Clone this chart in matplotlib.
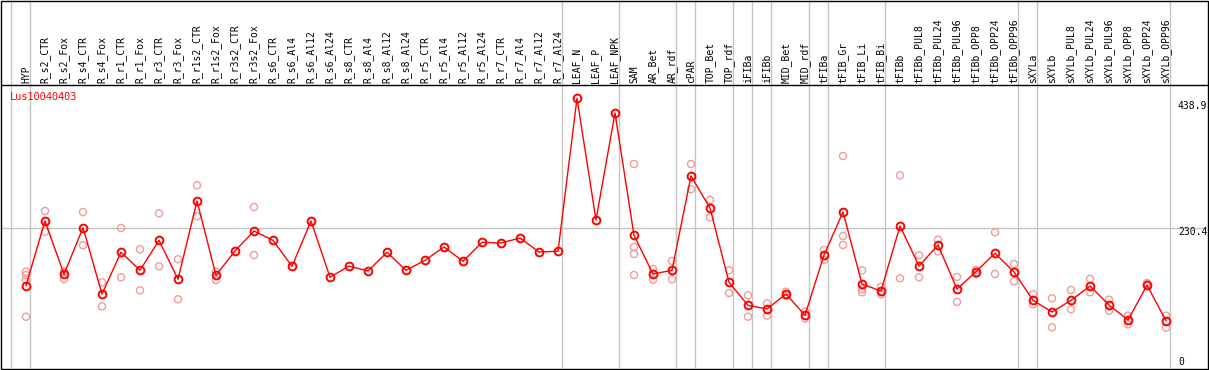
import numpy as np
import matplotlib.pyplot as plt
import matplotlib.transforms as mtransforms
from matplotlib.patches import Rectangle

gene = "Lus10040403"

samples = ["HYP",
           "R_s2_CTR", "R_s2_Fox", "R_s4_CTR", "R_s4_Fox", "R_r1_CTR", "R_r1_Fox",
           "R_r3_CTR", "R_r3_Fox", "R_r1s2_CTR", "R_r1s2_Fox", "R_r3s2_CTR", "R_r3s2_Fox",
           "R_s6_CTR", "R_s6_Al4", "R_s6_Al12", "R_s6_Al24", "R_s8_CTR", "R_s8_Al4",
           "R_s8_Al12", "R_s8_Al24", "R_r5_CTR", "R_r5_Al4", "R_r5_Al12", "R_r5_Al24",
           "R_r7_CTR", "R_r7_Al4", "R_r7_Al12", "R_r7_Al24",
           "LEAF_N", "LEAF_P", "LEAF_NPK",
           "SAM", "AR_Bet", "AR_rdf",
           "cPAR",
           "TOP_Bet", "TOP_rdf",
           "iFIBa",
           "iFIBb",
           "MID_Bet", "MID_rdf",
           "tFIBa",
           "tFIB_Gr", "tFIB_Li", "tFIB_Bi",
           "tFIBb", "tFIBb_PUL8", "tFIBb_PUL24", "tFIBb_PUL96", "tFIBb_OPP8",
           "tFIBb_OPP24", "tFIBb_OPP96",
           "sXYLa",
           "sXYLb", "sXYLb_PUL8", "sXYLb_PUL24", "sXYLb_PUL96", "sXYLb_OPP8",
           "sXYLb_OPP24", "sXYLb_OPP96"]

# how many samples sit between two grey separators
group_sizes = [1, 28, 3, 3, 1, 2, 1, 1, 2, 1, 3, 7, 1, 7]

mean_expr = [138.4, 242.2, 156.7, 231.4, 125.1, 192.0, 163.1, 211.2, 148.7, 274.3,
             155.1, 194.1, 226.1, 211.2, 169.5, 242.2, 151.9, 170.0, 162.0, 192.0,
             163.1, 179.1, 200.5, 177.5, 208.0, 206.9, 214.9, 192.5, 193.6,
             439.0, 243.8, 415.4,
             219.2, 157.2, 163.1,
             314.4,
             263.0, 143.9,
             107.0,
             101.0,
             125.1, 90.9,
             187.6,
             256.6, 141.1, 129.9,
             234.2, 170.0, 203.7, 133.1, 160.9, 190.4, 160.4,
             115.0,
             96.2, 115.0, 137.9, 107.5, 83.4, 139.1, 82.3]

replicates = [[160.9, 155.3, 147.6, 88.6],
              [258.2, 225.0], [160.9, 149.2], [256.6, 203.2], [143.9, 105.4],
              [231.0, 151.9], [196.8, 131.0], [254.5, 169.5], [180.8, 116.6],
              [299.4, 249.7], [160.9, 147.6], [], [264.6, 187.6],
              [], [], [], [], [], [], [], [], [], [], [], [], [], [], [], [],
              [], [], [],
              [333.6, 200.5, 189.3, 155.6], [165.2, 148.0], [178.0, 148.7],
              [333.6, 293.0],
              [275.9, 248.1], [163.1, 126.7],
              [123.0, 88.7],
              [110.2, 90.3],
              [128.8, 121.9], [96.7, 86.1],
              [195.7, 179.6],
              [346.4, 218.1, 203.7], [163.1, 132.6, 127.8], [136.8, 124.6],
              [315.5, 150.3], [187.2, 151.9], [212.2, 193.6], [152.4, 112.3],
              [163.6, 156.7], [224.1, 157.2], [173.2, 145.5],
              [124.6, 108.6],
              [118.2, 71.7], [131.5, 100.6], [149.2, 127.8], [116.0, 98.3],
              [90.3, 76.5], [142.7, 140.5], [90.3, 71.1]]

axis_marks = [0, 230.4, 438.9]

W, H = 1209, 370
fig = plt.figure(figsize=(W / 100, H / 100), dpi=100)
ax = fig.add_axes([1 / W, 2 / H, 1206 / W, 283 / H])

# 19 px between samples, first sample 25 px right of the frame
step = 19.0
xmin = -25 / step
ax.set_xlim(xmin, xmin + 1206 / step)
ax.set_ylim(6.4, 460.3)
ax.set_xticks([])
ax.set_yticks([])
for side in ["left", "right", "bottom"]:
    ax.spines[side].set_visible(False)
ax.spines["top"].set_linewidth(1.0)

mono = "DejaVu Sans Mono"
grey = "#c4c4c4"
trans = mtransforms.blended_transform_factory(ax.transData, ax.transAxes)

# separators reach up through the header
bounds = np.concatenate([[0], np.cumsum(group_sizes)]) - 1 + 0.22
ax.vlines(bounds, 0, 368 / 283, transform=trans, color=grey, lw=1,
          clip_on=False, zorder=0.5)
ax.axhline(230.4, color=grey, lw=1, zorder=0.5)

x = np.arange(len(samples))
for i, reps in enumerate(replicates):
    if reps:
        ax.scatter([i] * len(reps), reps, s=26, marker="o", facecolors="none",
                   edgecolors="#ef9c9c", linewidths=1.0, zorder=2)
ax.plot(x, mean_expr, color="red", lw=1, marker="o", mfc="none", mec="red",
        ms=5.6, mew=1.4, zorder=3)

for i, name in enumerate(samples):
    ax.text(i, 1 + 2 / 283, name, transform=trans, rotation=90, ha="center",
            va="bottom", fontsize=7, family=mono, clip_on=False)

ax.text(9 / 1206, 0.975, gene, transform=ax.transAxes, color="red",
        fontsize=7.4, family=mono, va="top", ha="left")

lab_x = (1178 - 26) / step
ax.annotate(str(axis_marks[2]), (lab_x, axis_marks[2]), xytext=(0, -3),
            textcoords="offset pixels", va="top", ha="left", fontsize=7,
            family=mono, annotation_clip=False)
ax.annotate(str(axis_marks[1]), (lab_x, axis_marks[1]), xytext=(0, 1),
            textcoords="offset pixels", va="top", ha="left", fontsize=7,
            family=mono)
ax.text(lab_x, 0.005, str(axis_marks[0]), transform=trans, va="bottom",
        ha="left", fontsize=7, family=mono)

fig.add_artist(Rectangle((1 / W, 1.5 / H), 1206.5 / W, 368 / H, fill=False,
                         edgecolor="black", lw=1.0, transform=fig.transFigure))

fig.savefig("out.png", dpi=100)
